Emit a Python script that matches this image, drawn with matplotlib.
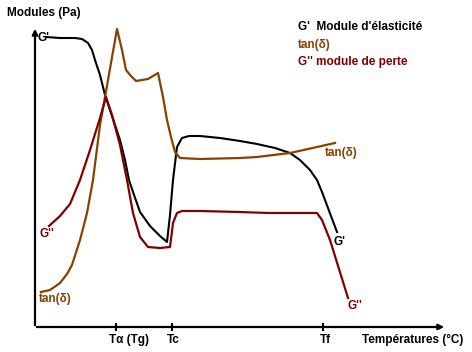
import matplotlib
matplotlib.use("Agg")
from matplotlib import pyplot as plt

# curves (x = temperature, y = modulus, picture units, y grows downward)
g1_x = [46, 60, 75, 82, 88, 92, 95, 100, 105, 110, 115, 120, 125, 129, 133, 140, 150, 160, 167,
        170, 173, 177, 182, 189, 200, 220, 240, 257, 275, 290, 300, 310, 317, 322, 328, 337]
g1_y = [37, 38, 38, 39, 43, 50, 60, 75, 95, 110, 125, 140, 160, 180, 192, 212, 226, 236, 242,
        215, 180, 147, 138, 136, 136, 138, 141, 144, 148, 153, 160, 170, 180, 192, 208, 232]

tan_x = [41, 50, 60, 67, 72, 80, 87, 93, 100, 105, 117, 122, 126, 131, 136, 148, 158, 163, 167,
         171, 175, 180, 200, 240, 257, 290, 335]
tan_y = [292, 290, 283, 274, 265, 240, 213, 180, 125, 97, 29, 50, 70, 76, 81, 79, 73, 97, 120,
         137, 152, 158, 159, 158, 157, 153, 143]

g2_x = [49, 60, 70, 80, 90, 100, 106, 112, 120, 127, 133, 140, 148, 160, 170, 173, 177, 182, 200,
        240, 268, 317, 322, 330, 348]
g2_y = [226, 216, 204, 180, 150, 118, 97, 115, 145, 180, 213, 237, 247, 248, 247, 223, 213, 211, 211,
        212, 213, 213, 220, 240, 298]

tick_x = [116, 172, 323]
tick_labels = ["Tα (Tg)", "Tc", "Tf"]
tick_label_x = [109, 167, 320]

BLACK = "#000000"
BROWN = "#854200"
RED = "#800000"


def main():
    plt.rcParams["font.family"] = ["Liberation Sans", "DejaVu Sans"]
    fig = plt.figure(figsize=(4.72, 3.52), dpi=100)
    ax = fig.add_axes([0, 0, 1, 1])
    ax.set_xlim(0, 472)
    ax.set_ylim(352, 0)
    ax.axis("off")

    # axes with arrows
    ax.annotate("", xy=(35, 26), xytext=(35, 328),
                arrowprops=dict(arrowstyle="-|>", color="black", lw=1.6, mutation_scale=8))
    ax.annotate("", xy=(447, 327), xytext=(34, 327),
                arrowprops=dict(arrowstyle="-|>", color="black", lw=1.6, mutation_scale=8))
    for tx, lab, lx in zip(tick_x, tick_labels, tick_label_x):
        ax.plot([tx, tx], [324, 330], color="black", lw=1.5)
        ax.text(lx, 340, lab, fontsize=8.5, fontweight="bold", va="center", ha="left")

    ax.plot(g1_x, g1_y, color=BLACK, lw=1.5)
    ax.plot(tan_x, tan_y, color=BROWN, lw=1.6)
    ax.plot(g2_x, g2_y, color=RED, lw=1.6)

    fs = 8.5
    ax.text(7, 13, "Modules (Pa)", fontsize=fs, fontweight="bold", va="center")
    ax.text(362, 340, "Températures (°C)", fontsize=fs, fontweight="bold", va="center")
    ax.text(38, 38, "G'", fontsize=fs, fontweight="bold", va="center", color=BLACK)
    ax.text(40, 234, "G''", fontsize=fs, fontweight="bold", va="center", color=RED)
    ax.text(39, 299, "tan(δ)", fontsize=fs, fontweight="bold", va="center", color=BROWN)
    ax.text(333, 242, "G'", fontsize=fs, fontweight="bold", va="center", color=BLACK)
    ax.text(348, 306, "G''", fontsize=fs, fontweight="bold", va="center", color=RED)
    ax.text(325, 153, "tan(δ)", fontsize=fs, fontweight="bold", va="center", color=BROWN)

    ax.text(298, 27, "G'  Module d'élasticité", fontsize=fs, fontweight="bold", va="center", color=BLACK)
    ax.text(298, 45, "tan(δ)", fontsize=fs, fontweight="bold", va="center", color=BROWN)
    ax.text(298, 62, "G'' module de perte", fontsize=fs, fontweight="bold", va="center", color=RED)

    fig.savefig("out.png", dpi=100)


if __name__ == "__main__":
    main()
